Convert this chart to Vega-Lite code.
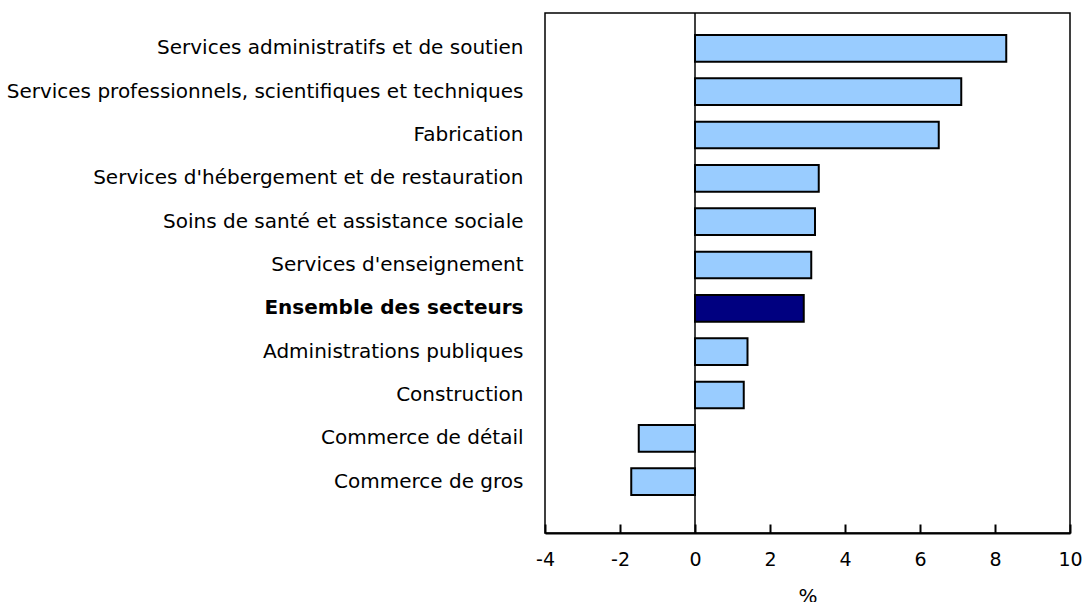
{
  "$schema": "https://vega.github.io/schema/vega-lite/v6.json",
  "width": 525,
  "height": 520,
  "autosize": "none",
  "padding": {"left": 545, "top": 13, "right": 15, "bottom": 69},
  "background": "white",
  "config": {
    "view": {"stroke": "black", "strokeWidth": 1.5},
    "font": "DejaVu Sans"
  },
  "data": {
    "values": [
      {"secteur": "Services administratifs et de soutien", "valeur": 8.3, "groupe": "s"},
      {"secteur": "Services professionnels, scientifiques et techniques", "valeur": 7.1, "groupe": "s"},
      {"secteur": "Fabrication", "valeur": 6.5, "groupe": "s"},
      {"secteur": "Services d'hébergement et de restauration", "valeur": 3.3, "groupe": "s"},
      {"secteur": "Soins de santé et assistance sociale", "valeur": 3.2, "groupe": "s"},
      {"secteur": "Services d'enseignement", "valeur": 3.1, "groupe": "s"},
      {"secteur": "Ensemble des secteurs", "valeur": 2.9, "groupe": "t"},
      {"secteur": "Administrations publiques", "valeur": 1.4, "groupe": "s"},
      {"secteur": "Construction", "valeur": 1.3, "groupe": "s"},
      {"secteur": "Commerce de détail", "valeur": -1.5, "groupe": "s"},
      {"secteur": "Commerce de gros", "valeur": -1.7, "groupe": "s"}
    ]
  },
  "layer": [
    {
      "mark": {"type": "bar", "stroke": "black", "strokeWidth": 2},
      "encoding": {
        "y": {
          "field": "secteur",
          "type": "nominal",
          "sort": null,
          "scale": {"paddingInner": 0.385, "paddingOuter": 0.6925, "align": 0.367},
          "axis": {
            "title": null,
            "domain": false,
            "ticks": false,
            "labelPadding": 22,
            "labelFontSize": 20,
            "labelColor": "black",
            "labelFont": "DejaVu Sans",
            "labelLimit": 700,
            "labelFontWeight": {"condition": {"test": "datum.value == 'Ensemble des secteurs'", "value": "bold"}, "value": "normal"}
          }
        },
        "x": {
          "field": "valeur",
          "type": "quantitative",
          "scale": {"domain": [-4, 10], "nice": false, "zero": false},
          "axis": {
            "title": "%",
            "titleFontSize": 20,
            "titleFontWeight": "normal",
            "titleColor": "black",
            "titlePadding": 17,
            "values": [-4, -2, 0, 2, 4, 6, 8, 10],
            "labelExpr": "'' + datum.value",
            "grid": false,
            "domainColor": "black",
            "domainWidth": 2,
            "tickColor": "black",
            "tickWidth": 2,
            "tickSize": -9,
            "labelPadding": 26,
            "labelFontSize": 19,
            "labelColor": "black",
            "labelFlush": false
          }
        },
        "color": {
          "field": "groupe",
          "type": "nominal",
          "scale": {"domain": ["s", "t"], "range": ["#99CCFF", "#000080"]},
          "legend": null
        }
      }
    },
    {
      "mark": {"type": "rule", "color": "black", "strokeWidth": 1.5},
      "data": {"values": [{"x": 0}]},
      "encoding": {"x": {"field": "x", "type": "quantitative"}}
    }
  ]
}
